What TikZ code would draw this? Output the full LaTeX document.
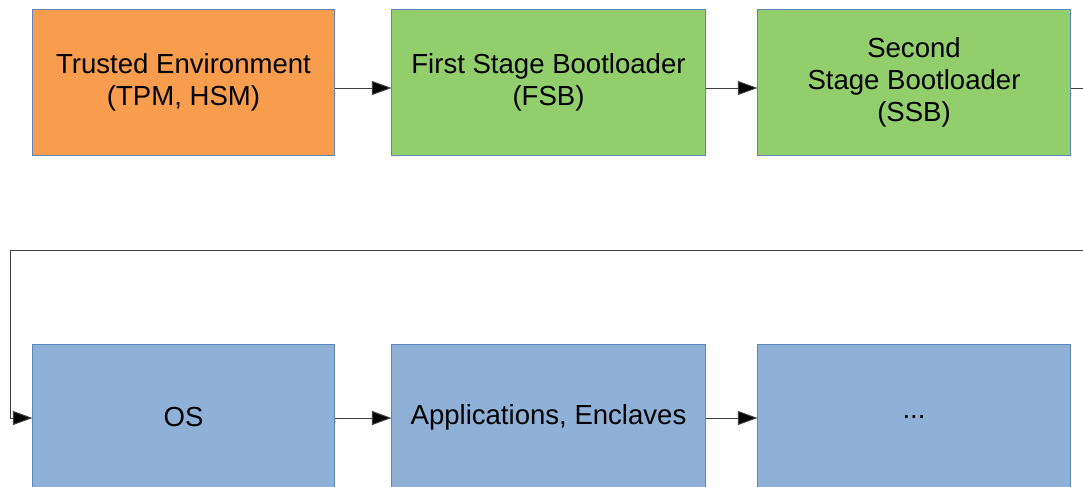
\documentclass[tikz,border=0pt]{standalone}
\usepackage{fontspec}
\setmainfont{Liberation Sans}
\usetikzlibrary{positioning}
\usetikzlibrary{arrows.meta}

\definecolor{tenv}{RGB}{247,157,77}
\definecolor{boot}{RGB}{146,206,108}
\definecolor{rest}{RGB}{143,177,216}
\definecolor{edge}{RGB}{94,134,190}

\begin{document}
\begin{tikzpicture}[x=0.025cm,y=-0.025cm]

 \tikzset{stage/.style={
 		draw=edge,
 		line width=0.7pt,
 		minimum height=3.625cm,
 		align=center,
 		inner sep=0pt,
 		font=\fontsize{19.6}{22.8}\selectfont
 	},
 	link/.style={
 		draw=black!75,
 		line width=0.7pt,
 		-{Triangle[length=14pt,width=10pt,fill=black]}
 	}
 }
 \clip (0,0) rectangle (1083,486);

 % chain of trust, upper row
 \node[stage,fill=tenv,minimum width=7.525cm] (tee) at (183.5,82.5) {Trusted Environment\\(TPM, HSM)};
 \node[stage,fill=boot,minimum width=7.825cm] (fsb) at (548.5,82.5) {First Stage Bootloader\\(FSB)};
 \node[stage,fill=boot,minimum width=7.8cm] (ssb) at (914,82.5) {Second\\Stage Bootloader\\(SSB)};

 % lower row
 \node[stage,fill=rest,minimum width=7.525cm] (os) at (183.5,417.5) {OS};
 \node[stage,fill=rest,minimum width=7.825cm] (apps) at (548.5,417.5) {Applications, Enclaves};
 \node[stage,fill=rest,minimum width=7.8cm] (more) at (914,417.5) {...};

 \coordinate (turn) at (1090,250);

 \draw[link] (tee.east |- 0,88) -- (fsb.west |- 0,88);
 \draw[link] (fsb.east |- 0,88) -- (ssb.west |- 0,88);
 \draw[link] (ssb.east |- 0,88) -| (turn) -- (10,250) |- (os.west |- 0,418);
 \draw[link] (os.east |- 0,418) -- (apps.west |- 0,418);
 \draw[link] (apps.east |- 0,418) -- (more.west |- 0,418);
\end{tikzpicture}
\end{document}
